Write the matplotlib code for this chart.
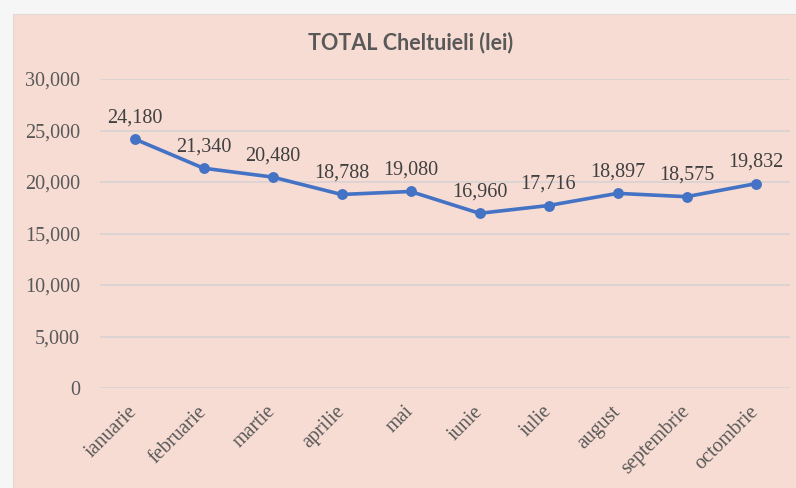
import matplotlib
matplotlib.use("Agg")
import matplotlib.pyplot as plt
from matplotlib.patches import Rectangle
from matplotlib.ticker import FuncFormatter

months = ["ianuarie", "februarie", "martie", "aprilie", "mai", "iunie",
          "iulie", "august", "septembrie", "octombrie"]
totals = [24180, 21340, 20480, 18788, 19080, 16960, 17716, 18897, 18575, 19832]
title = "TOTAL Cheltuieli (lei)"

W, H = 796, 488
fig = plt.figure(figsize=(W / 100, H / 100), dpi=100, facecolor="#f6f6f6")
pink = "#f7dcd3"
bg = fig.add_axes([0, 0, 1, 1], zorder=-10)
bg.set_xlim(0, W)
bg.set_ylim(H, 0)
bg.axis("off")
bg.add_patch(Rectangle((13, 14), W - 13, H - 14, facecolor=pink,
                       edgecolor="#e4d6d2", linewidth=0.8))

ax = fig.add_axes([100 / W, 1 - 388 / H, 690 / W, (388 - 79) / H])
ax.set_facecolor("none")
x = list(range(len(months)))
ax.plot(x, totals, color="#4472c4", linewidth=2.6, marker="o", markersize=6.8,
        zorder=3)
for xi, v in zip(x, totals):
    ax.annotate(f"{v:,}", (xi, v), xytext=(0, 8.5), textcoords="offset points",
                ha="center", va="bottom", fontsize=14.5, color="#404040",
                family="Liberation Serif")

ax.set_xlim(-0.5, len(months) - 0.5)
ax.set_ylim(0, 30000)
ax.set_yticks(range(0, 30001, 5000))
ax.yaxis.set_major_formatter(FuncFormatter(lambda v, p: f"{int(v):,}"))
ax.grid(axis="y", color="#dcd3d3", linewidth=1.3)
ax.set_axisbelow(True)
for s in ax.spines.values():
    s.set_visible(False)
ax.tick_params(length=0, colors="#595959")
ax.tick_params(axis="y", pad=14.5)
ax.set_xticks(x)
ax.set_xticklabels(months, rotation=45, ha="right", va="center",
                   rotation_mode="anchor")
ax.tick_params(axis="x", pad=15)
for lab in ax.get_xticklabels() + ax.get_yticklabels():
    lab.set_family("Liberation Serif")
    lab.set_fontsize(14.5)
    lab.set_color("#595959")

fig.text(411 / W, 1 - 43 / H, title, ha="center", va="center",
         fontsize=15.5, fontweight="bold", color="#595959", family="Lato")

fig.savefig("out.png", dpi=100, facecolor=fig.get_facecolor())
